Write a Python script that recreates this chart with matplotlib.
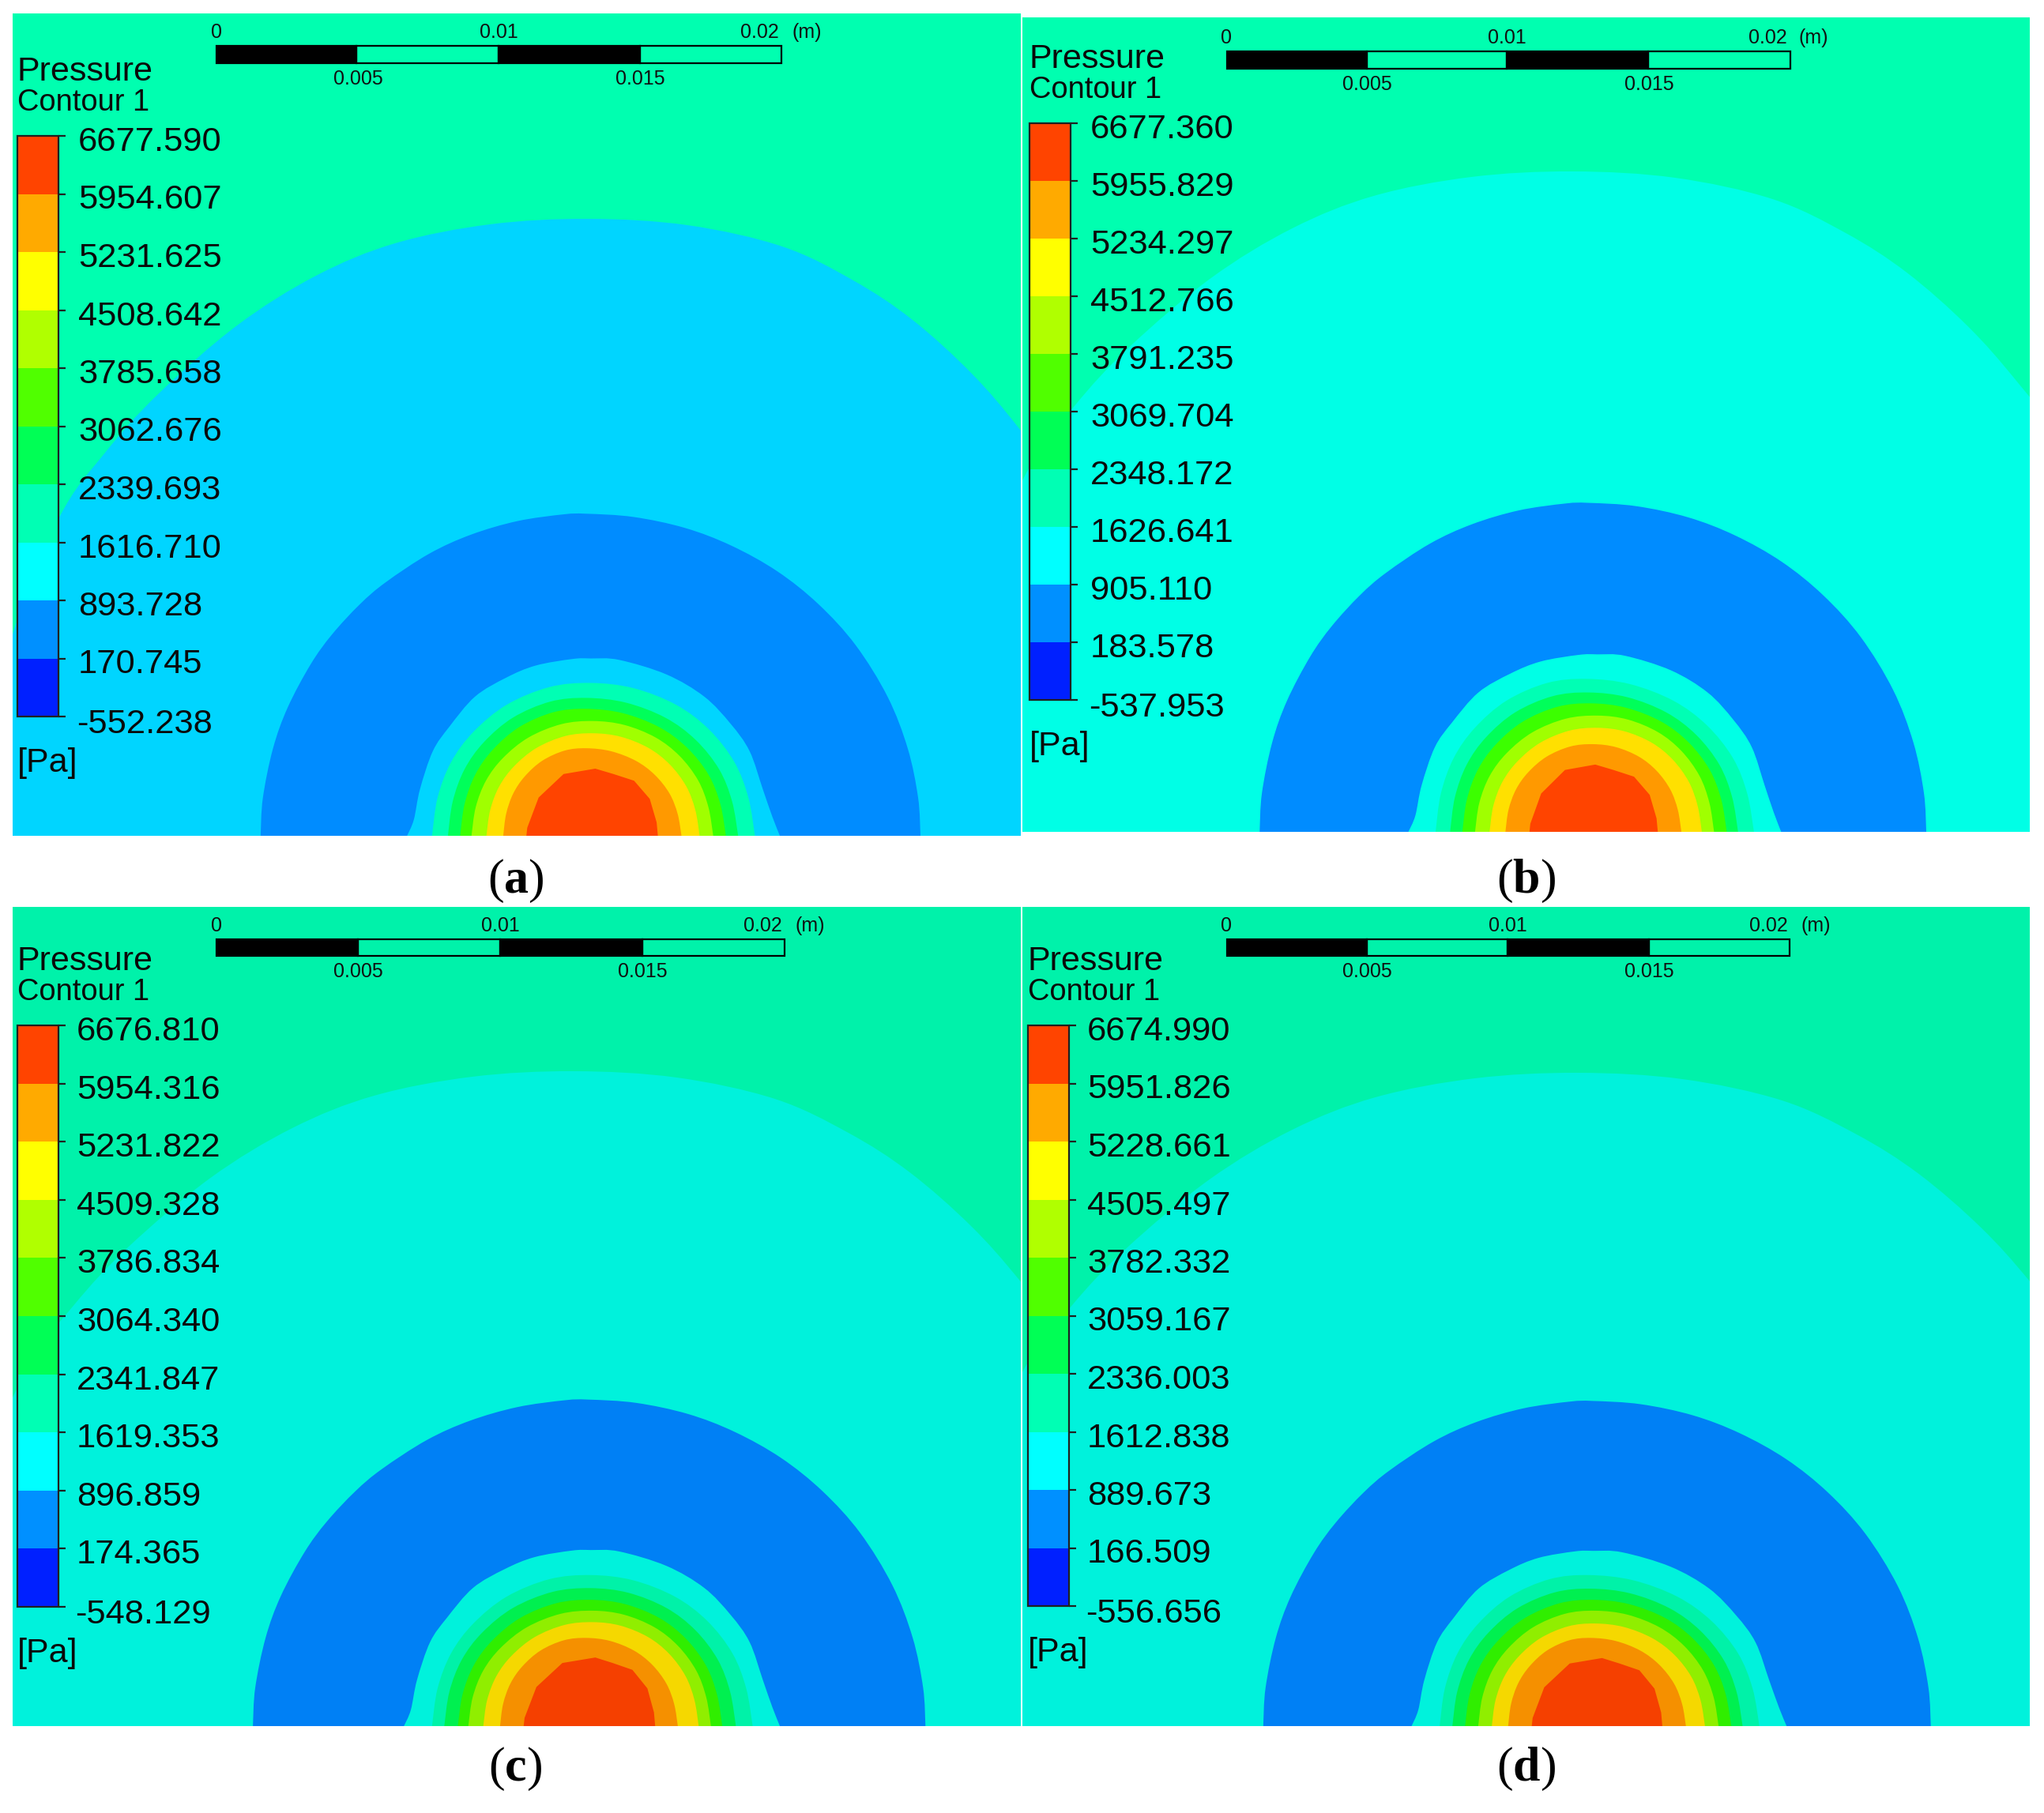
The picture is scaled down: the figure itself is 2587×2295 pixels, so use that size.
import numpy as np
import matplotlib
matplotlib.use('Agg')
import matplotlib.pyplot as plt
from matplotlib.patches import PathPatch, Rectangle
from matplotlib.path import Path

plt.rcParams['font.family'] = ['Liberation Sans', 'DejaVu Sans']
plt.rcParams['mathtext.fontset'] = 'custom'
plt.rcParams['mathtext.bf'] = 'Liberation Serif:bold'
plt.rcParams['mathtext.rm'] = 'Liberation Serif'

WIDTH, HEIGHT = 2587, 2295
PX = 0.72  # font size in points for one pixel at dpi 100

# legend values, top to bottom
labels_a = ['6677.590', '5954.607', '5231.625', '4508.642', '3785.658', '3062.676',
            '2339.693', '1616.710', '893.728', '170.745', '-552.238']
labels_b = ['6677.360', '5955.829', '5234.297', '4512.766', '3791.235', '3069.704',
            '2348.172', '1626.641', '905.110', '183.578', '-537.953']
labels_c = ['6676.810', '5954.316', '5231.822', '4509.328', '3786.834', '3064.340',
            '2341.847', '1619.353', '896.859', '174.365', '-548.129']
labels_d = ['6674.990', '5951.826', '5228.661', '4505.497', '3782.332', '3059.167',
            '2336.003', '1612.838', '889.673', '166.509', '-556.656']

legend_colors = ['#ff4400', '#ffaa00', '#ffff00', '#b0ff00', '#50ff00', '#00ff55',
                 '#00ffb4', '#00ffff', '#0090ff', '#0020ff']

scale_ticks = ['0', '0.005', '0.01', '0.015', '0.02']

# contour colours, outside to inside
colors_a = ['#00ffb0', '#00d5ff', '#008cff', '#00d5ff', '#00ffb4', '#00ff5a', '#3cff00',
            '#a0ff00', '#ffe000', '#ff9900', '#ff4400']
colors_b = ['#00ffb0', '#00ffe6', '#008cff', '#00ffe6', '#00ffb4', '#00ff5a', '#3cff00',
            '#a0ff00', '#ffe000', '#ff9900', '#ff4400']
colors_c = ['#00f2aa', '#00f2dc', '#0080f5', '#00f2dc', '#00f2a8', '#00f050', '#30ee00',
            '#90ee00', '#f5d800', '#f59000', '#f54000']

# outer arch, pixels from its apex
outer_dx = [-800, -800, -728, -669, -611, -544, -444, -344, -244, -124, 0, 126, 246, 336, 411, 486, 548, 640, 720, 800, 800]
outer_dy = [1000, 800, 526, 378, 296, 222, 135, 72, 31, 7, 0, 8, 35, 78, 128, 196, 268, 390, 530, 800, 1000]

# outlines, u across the base (-1..1), v up to the top (0..1)
arch_u = [-1, -.993, -.962, -.917, -.846, -.78, -.695, -.616, -.482, -.354, -.212, -.07, 0, .141, .295, .434, .572, .695, .806, .902, .962, .993, 1]
arch_v = [0, .118, .271, .398, .533, .626, .719, .787, .876, .935, .977, .998, 1, .99, .956, .901, .821, .719, .592, .431, .271, .118, 0]
flare_u = [-1, -.963, -.93, -.86, -.77, -.63, -.46, -.3, -.1, 0, .15, .4, .6, .74, .84, .91, .96, 1]
flare_v = [0, .092, .262, .477, .615, .785, .892, .96, .997, 1, .992, .91, .785, .631, .477, .262, .108, 0]
mid_u = [-1, -.965, -.88, -.74, -.53, -.26, 0, .26, .52, .72, .875, .96, 1]
mid_v = [0, .25, .482, .679, .857, .973, 1, .966, .857, .696, .482, .25, 0]
core_u = [-1, -.987, -.822, -.46, 0, .29, .62, .87, .98, 1]
core_v = [0, .12, .57, .92, 1, .92, .82, .55, .2, 0]

# contour extents per panel: left and right at the base, top, apex (crop coordinates)
left_a = [52, 375, 430, 465, 492, 517, 550, 587, 638]
right_a = [1507, 1197, 1142, 1105, 1078, 1050, 1020, 980, 928]
top_a = [88, 620, 710, 765, 805, 850, 895, 950, 1025]
apex_a = [770, 780, 780, 770, 770, 785, 785, 770, 790]

left_b = [-10, 318, 378, 410, 437, 465, 497, 532, 585]
right_b = [1460, 1140, 1080, 1045, 1020, 992, 965, 920, 868]
top_b = [48, 605, 695, 745, 785, 830, 875, 935, 1010]
apex_b = [715, 735, 710, 715, 720, 735, 735, 725, 730]

left_c = [35, 368, 430, 457, 487, 510, 543, 580, 632]
right_c = [1518, 1197, 1137, 1100, 1070, 1045, 1018, 972, 922]
top_c = [92, 645, 737, 785, 828, 868, 910, 968, 1040]
apex_c = [775, 780, 780, 780, 780, 785, 785, 770, 790]

left_d = [-2, 325, 387, 415, 443, 472, 502, 538, 590]
right_d = [1470, 1152, 1092, 1055, 1030, 1002, 972, 930, 878]
top_d = [97, 648, 737, 787, 828, 868, 915, 968, 1042]
apex_d = [725, 725, 715, 720, 725, 730, 730, 720, 745]

panels = [
    dict(name='a', box=(16, 17, 1292, 1058), crop=(300, 620), outer=(744, 277, 1.0), colors=colors_a,
         left=left_a, right=right_a, top=top_a, apex=apex_a, labels=labels_a,
         bar=[274, 451, 631, 810, 989], bar_y=(58, 80), txt_x=[274, 453, 631, 810, 961], unit_x=1003,
         legend=(22, 74, 172, 907), lab_off=77, caption=(653, 1115)),
    dict(name='b', box=(1294, 22, 2569, 1053), crop=(1600, 620), outer=(1990, 217, 1.03), colors=colors_b,
         left=left_b, right=right_b, top=top_b, apex=apex_b, labels=labels_b,
         bar=[1553, 1730, 1907, 2086, 2266], bar_y=(65, 87), txt_x=[1552, 1730, 1907, 2087, 2237], unit_x=2277,
         legend=(1303, 1355, 156, 886), lab_off=77, caption=(1932, 1115)),
    dict(name='c', box=(16, 1148, 1292, 2185), crop=(300, 1740), outer=(726, 1356, 1.035), colors=colors_c,
         left=left_c, right=right_c, top=top_c, apex=apex_c, labels=labels_c,
         bar=[274, 453, 633, 813, 993], bar_y=(1189, 1210), txt_x=[274, 453, 633, 813, 965], unit_x=1007,
         legend=(22, 74, 1298, 2034), lab_off=75, caption=(652, 2239)),
    dict(name='d', box=(1294, 1148, 2569, 2185), crop=(1600, 1740), outer=(1997, 1358, 1.05), colors=colors_c,
         left=left_d, right=right_d, top=top_d, apex=apex_d, labels=labels_d,
         bar=[1553, 1730, 1908, 2087, 2265], bar_y=(1189, 1210), txt_x=[1552, 1730, 1908, 2087, 2238], unit_x=2280,
         legend=(1301, 1353, 1298, 2033), lab_off=75, caption=(1932, 2239)),
]

CROP_SX = 900 / 1568
CROP_SY = 540 / 1568


def smooth_fill(ax, xs, ys, color, zorder, clip):
    # bezier segments through the read points, closed along the base
    pts = np.column_stack([xs, ys])
    verts = [pts[0]]
    codes = [Path.MOVETO]
    for i in range(len(pts) - 1):
        before = pts[max(i - 1, 0)]
        after = pts[min(i + 2, len(pts) - 1)]
        verts += [pts[i] + (pts[i + 1] - before) / 6, pts[i + 1] - (after - pts[i]) / 6, pts[i + 1]]
        codes += [Path.CURVE4] * 3
    verts.append(pts[0])
    codes.append(Path.CLOSEPOLY)
    patch = PathPatch(Path(verts, codes), fc=color, ec='none', lw=0, zorder=zorder)
    ax.add_patch(patch)
    patch.set_clip_path(clip)


def draw_contours(ax, p):
    x0, y0, x1, y1 = p['box']
    clip = Rectangle((x0, y0), x1 - x0, y1 - y0, transform=ax.transData)
    ax.add_patch(Rectangle((x0, y0), x1 - x0, y1 - y0, fc=p['colors'][0], ec='none', zorder=1))

    ox, oy, ow = p['outer']
    smooth_fill(ax, ox + np.array(outer_dx) * ow, oy + np.array(outer_dy), p['colors'][1], 2, clip)

    shapes = [(arch_u, arch_v), (flare_u, flare_v)] + [(mid_u, mid_v)] * 6 + [(core_u, core_v)]
    cx, cy = p['crop']
    for i, (su, sv) in enumerate(shapes):
        apex = cx + p['apex'][i] * CROP_SX
        left = cx + p['left'][i] * CROP_SX
        right = cx + p['right'][i] * CROP_SX
        top = cy + p['top'][i] * CROP_SY
        u = np.array(su)
        xs = apex + np.where(u < 0, u * (apex - left), u * (right - apex))
        ys = y1 - np.array(sv) * (y1 - top)
        if su is core_u:
            poly = ax.fill(xs, ys, color=p['colors'][i + 2], lw=0, zorder=3 + i)
            poly[0].set_clip_path(clip)
        else:
            smooth_fill(ax, xs, ys, p['colors'][i + 2], 3 + i, clip)


def draw_scale_bar(ax, p):
    stops = p['bar']
    ya, yb = p['bar_y']
    for i in range(4):
        fc = 'black' if i % 2 == 0 else 'none'
        ax.add_patch(Rectangle((stops[i], ya), stops[i + 1] - stops[i], yb - ya, fc=fc, ec='black', lw=1.6, zorder=20))
    for i, tick in enumerate(scale_ticks):
        y = ya - 10 if i % 2 == 0 else yb + 27
        ax.text(p['txt_x'][i], y, tick, fontsize=25 * PX, ha='center', va='baseline', color='#101010', zorder=21)
    ax.text(p['unit_x'], ya - 10, '(m)', fontsize=25 * PX, ha='left', va='baseline', color='#101010', zorder=21)


def draw_legend(ax, p):
    xa, xb, ya, yb = p['legend']
    edges = np.linspace(ya, yb, len(legend_colors) + 1)
    for i, c in enumerate(legend_colors):
        ax.add_patch(Rectangle((xa, edges[i]), xb - xa, edges[i + 1] - edges[i], fc=c, ec='none', zorder=20))
    ax.add_patch(Rectangle((xa, ya), xb - xa, yb - ya, fc='none', ec='#202020', lw=1.6, zorder=21))
    for y, lab in zip(edges, p['labels']):
        ax.plot([xb, xb + 9], [y, y], color='#202020', lw=1.6, zorder=21, solid_capstyle='butt')
        neg = lab.startswith('-')
        ax.text(xa + p['lab_off'] - (2 if neg else 0), y + (21 if neg else 19), lab, fontsize=43.5 * PX,
                ha='left', va='baseline', color='#0a0a0a', zorder=21)
    ax.text(xa, ya - 70, 'Pressure', fontsize=43 * PX, ha='left', va='baseline', color='#0a0a0a', zorder=21)
    ax.text(xa, ya - 32, 'Contour 1', fontsize=38 * PX, ha='left', va='baseline', color='#0a0a0a', zorder=21)
    ax.text(xa, yb + 70, '[Pa]', fontsize=43 * PX, ha='left', va='baseline', color='#0a0a0a', zorder=21)


fig = plt.figure(figsize=(WIDTH / 100, HEIGHT / 100), dpi=100)
ax = fig.add_axes([0, 0, 1, 1])
ax.set_xlim(0, WIDTH)
ax.set_ylim(HEIGHT, 0)
ax.axis('off')

for p in panels:
    draw_contours(ax, p)
    draw_scale_bar(ax, p)
    draw_legend(ax, p)
    cap_x, cap_y = p['caption']
    ax.text(cap_x, cap_y, '($\\mathbf{%s}$)' % p['name'], fontsize=62 * PX, family='Liberation Serif',
            ha='center', va='center', color='black')

fig.savefig('out.png', dpi=100)
